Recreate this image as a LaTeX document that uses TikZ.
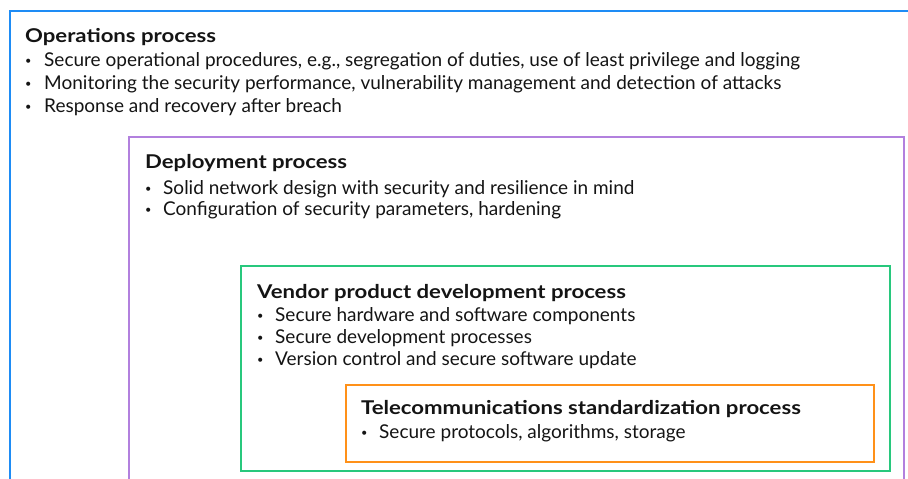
\documentclass[tikz,border=0pt]{standalone}
\usepackage{fontspec}
\setmainfont{Lato}
\newfontfamily\ttlfont[FakeStretch=1.165]{Lato}
\definecolor{opsblue}{RGB}{30,140,245}
\definecolor{deppurple}{RGB}{178,128,222}
\definecolor{vengreen}{RGB}{40,200,125}
\definecolor{telorange}{RGB}{255,145,25}
\definecolor{txt}{RGB}{20,20,20}
\tikzset{
  frame/.style={line width=2pt},
  ttl/.style={anchor=base west, inner sep=0pt, font=\ttlfont\fontsize{19}{22}\selectfont\bfseries, text=txt},
  itm/.style={anchor=base west, inner sep=0pt, font=\fontsize{19}{22}\selectfont, text=txt},
  bul/.style={anchor=base west, inner sep=0pt, font=\fontsize{11}{13}\selectfont, text=txt, yshift=1.8pt},
}
\begin{document}
\begin{tikzpicture}[x=1pt,y=-1pt]
\useasboundingbox (0,0) rectangle (908,479);
\clip (0,0) rectangle (908,479);
\draw[frame, opsblue] (10,11) rectangle (915,490);
\draw[frame, deppurple] (129,137) rectangle (904,490);
\draw[frame, vengreen] (241,266) rectangle (890,471);
\draw[frame, telorange] (346,385) rectangle (874,462);

% Operations
\node[ttl] (opsT) at (25,42) {Operations process};
\node[bul] (opsB1) at (25,66) {•};
\node[itm] (ops1) at (44,66) {Secure operational procedures, e.g., segregation of duties, use of least privilege and logging};
\node[bul] (opsB2) at (25,89) {•};
\node[itm] (ops2) at (44,89) {Monitoring the security performance, vulnerability management and detection of attacks};
\node[bul] (opsB3) at (25,112) {•};
\node[itm] (ops3) at (44,112) {Response and recovery after breach};

% Deployment
\node[ttl] (depT) at (145,168) {Deployment process};
\node[bul] (depB1) at (145,194) {•};
\node[itm] (dep1) at (163,194) {Solid network design with security and resilience in mind};
\node[bul] (depB2) at (145,215) {•};
\node[itm] (dep2) at (163,215) {Configuration of security parameters, hardening};

% Vendor
\node[ttl] (venT) at (257,298) {Vendor product development process};
\node[bul] (venB1) at (257,321) {•};
\node[itm] (ven1) at (275,321) {Secure hardware and software components};
\node[bul] (venB2) at (257,343) {•};
\node[itm] (ven2) at (275,343) {Secure development processes};
\node[bul] (venB3) at (257,365) {•};
\node[itm] (ven3) at (275,365) {Version control and secure software update};

% Telecom
\node[ttl] (telT) at (361,414) {Telecommunications standardization process};
\node[bul] (telB1) at (361,438) {•};
\node[itm] (tel1) at (379,438) {Secure protocols, algorithms, storage};
\end{tikzpicture}
\end{document}
